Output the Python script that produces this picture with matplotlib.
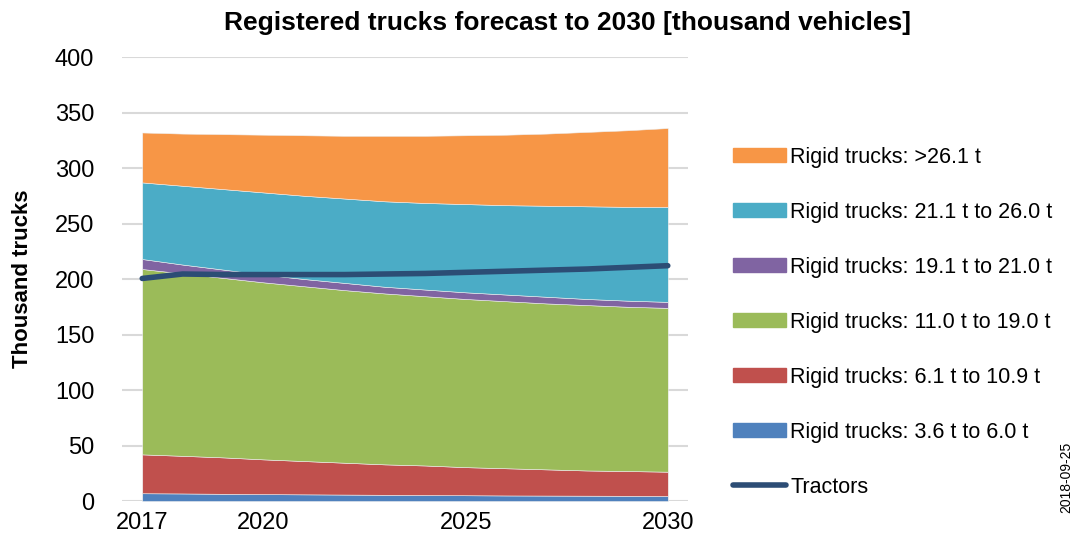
import matplotlib
matplotlib.use("Agg")
import matplotlib.pyplot as plt
from matplotlib import font_manager
from matplotlib.patches import Patch
from matplotlib.lines import Line2D

# Data (thousand vehicles)
years = list(range(2017, 2031))
rigid_3_6 = [7, 6.8, 6.5, 6.2, 6.0, 5.8, 5.6, 5.4, 5.2, 5.0, 4.9, 4.8, 4.7, 4.5]
rigid_6_1 = [35, 33.9, 32.8, 31.3, 30.0, 28.7, 27.4, 26.6, 25.3, 24.5, 23.6, 22.7, 22.3, 21.9]
rigid_11_0 = [167, 164.3, 161.7, 159.5, 157.5, 155.5, 154, 152.5, 151.5, 150.5, 149.5, 149, 148, 147.6]
rigid_19_1 = [9, 8, 7.5, 7, 6.5, 6.5, 6, 6, 6, 6, 6, 5.5, 5.5, 5.4]
rigid_21_1 = [69, 71, 72.5, 74, 75, 76, 77, 78, 79.5, 80.5, 82, 83.5, 84.5, 85.6]
rigid_26_1 = [45, 47, 49.5, 52, 54.5, 56.5, 59, 60.5, 62, 63.5, 65, 67, 69, 71]
tractors = [200.5, 204.5, 204, 204, 204, 204, 204.5, 205, 206, 207, 208, 209, 210.5, 212]

labels = ["Rigid trucks: 3.6 t to 6.0 t", "Rigid trucks: 6.1 t to 10.9 t",
          "Rigid trucks: 11.0 t to 19.0 t", "Rigid trucks: 19.1 t to 21.0 t",
          "Rigid trucks: 21.1 t to 26.0 t", "Rigid trucks: >26.1 t"]
colors = ["#4F81BD", "#C0504D", "#9BBB59", "#8064A2", "#4BACC6", "#F79646"]
tractor_color = "#2C4D75"
xticks = [2017, 2020, 2025, 2030]

available = {f.name for f in font_manager.fontManager.ttflist}
fam = ["Liberation Sans Narrow", "Liberation Sans", "DejaVu Sans"]
plt.rcParams["font.family"] = [f for f in fam if f in available] or ["DejaVu Sans"]

fig = plt.figure(figsize=(10.77, 5.46), dpi=100)
ax = fig.add_axes([0.1133, 0.0824, 0.5255, 0.8132])

ax.stackplot(years, rigid_3_6, rigid_6_1, rigid_11_0, rigid_19_1, rigid_21_1, rigid_26_1,
             colors=colors, edgecolor="#eeeeee", linewidth=0.4, zorder=2)
ax.plot(years, tractors, color=tractor_color, lw=4, solid_capstyle="round", zorder=3)

ax.set_xlim(2016.5, 2030.5)
ax.set_ylim(0, 400)
ax.set_yticks(range(0, 401, 50))
ax.set_xticks(xticks)
ax.tick_params(axis="both", length=0, labelsize=17, pad=8)
ax.tick_params(axis="y", pad=20)
ax.yaxis.grid(True, color="#D9D9D9", lw=1.5, zorder=0)
ax.set_axisbelow(True)
for s in ax.spines.values():
    s.set_visible(False)

ax.set_ylabel("Thousand trucks", fontsize=16, fontweight="bold", labelpad=16)
fig.text(0.5265, 0.957, "Registered trucks forecast to 2030 [thousand vehicles]",
         ha="center", va="center", fontsize=19, fontweight="bold")

handles = [Patch(color=c) for c in colors[::-1]]
handles.append(Line2D([0], [0], color=tractor_color, lw=4, solid_capstyle="round"))
ax.legend(handles, labels[::-1] + ["Tractors"], loc="center left",
          bbox_to_anchor=(0.673, 0.41), bbox_transform=fig.transFigure,
          frameon=False, fontsize=15.5, handlelength=2.45, handleheight=0.65,
          handletextpad=0.2, labelspacing=1.58, borderaxespad=0)

fig.text(0.99, 0.125, "2018-09-25", rotation=90, ha="center", va="center", fontsize=10)

fig.savefig("out.png", dpi=100)
